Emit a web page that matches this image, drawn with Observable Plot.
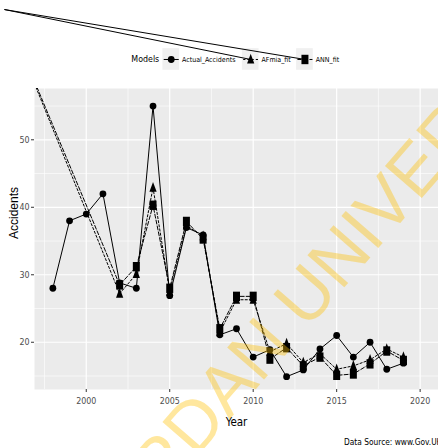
<!DOCTYPE html>
<html>
<head>
<meta charset="utf-8">
<script src="https://cdn.jsdelivr.net/npm/d3@7"></script>
<script src="https://cdn.jsdelivr.net/npm/@observablehq/plot@0.6"></script>
<style>
  html, body { margin: 0; padding: 0; background: white; overflow: hidden; }
  svg { display: block; }
</style>
</head>
<body>
<div id="chart"></div>
<script>
// ---- data ----
const actualYears = [1998,1999,2000,2001,2002,2003,2004,2005,2006,2007,2008,2009,2010,2011,2012,2013,2014,2015,2016,2017,2018,2019];
const actualValues = [28,38,39,42,28.8,28,55,26.9,37,35.9,21.1,22,17.8,18.9,14.9,15.9,19,21,17.8,20,16,16.9];

const fitYears = [2002,2003,2004,2005,2006,2007,2008,2009,2010,2011,2012,2013,2014,2015,2016,2017,2018,2019];
const afmiaValues = [27.2,30.1,42.9,27.5,37.3,35.7,21.5,26.3,26.3,18.6,19.8,17.0,18.3,16.0,16.5,17.4,19.0,17.8];
const annValues   = [28.5,31.2,40.3,28.0,37.9,35.3,22.0,26.8,26.8,17.5,19.2,16.5,17.8,15.1,15.3,16.8,18.7,17.3];

// stray starting point of the fitted paths (far outside the panel)
const fitStartYear = 1995.1;
const fitStartValue = 69.3;

const modelNames = ["Actual_Accidents", "AFmia_fit", "ANN_fit"];
const xTicks = [2000, 2005, 2010, 2015, 2020];
const xMinor = [1997.5, 2002.5, 2007.5, 2012.5, 2017.5];
const yTicks = [20, 30, 40, 50];
const yMinor = [15, 25, 35, 45, 55];

// ---- tables ----
const actualRows = actualYears.map((y, i) => ({year: y, value: actualValues[i]}));
const afmiaRows = fitYears.map((y, i) => ({year: y, value: afmiaValues[i]}));
const annRows = fitYears.map((y, i) => ({year: y, value: annValues[i]}));
const afmiaPath = [{year: fitStartYear, value: fitStartValue}, ...afmiaRows];
const annPath = [{year: fitStartYear, value: fitStartValue}, ...annRows];

// custom (slightly tall) symbols
const tallSquare = {draw(ctx, size) { const s = Math.sqrt(size / Math.PI); const w = 1.75 * s, h = 2.35 * s; ctx.rect(-w/2, -h/2, w, h); }};
const tallTriangle = {draw(ctx, size) { const s = Math.sqrt(size / Math.PI); ctx.moveTo(0, -1.45 * s); ctx.lineTo(0.9 * s, 1.0 * s); ctx.lineTo(-0.9 * s, 1.0 * s); ctx.closePath(); }};

const dashes = ["none", "2.2,2", "4,2"];
const symbols = ["circle", tallTriangle, tallSquare];

// legend placement (in data coordinates, above the panel)
const legendY = 61.9;
const legendKeyX = [2005.09, 2009.85, 2013.1];
const legendRows = modelNames.map((m, i) => ({name: m, x: legendKeyX[i], i}));

const font = "'Liberation Sans Narrow', 'Arial Narrow', 'DejaVu Sans Condensed', sans-serif";
const wmFont = "'Liberation Sans', Arial, sans-serif";

const chart = Plot.plot({
  width: 438,
  height: 448,
  marginLeft: 34,
  marginRight: 0,
  marginTop: 88,
  marginBottom: 59,
  style: {fontFamily: font, background: "white", overflow: "visible"},
  x: {domain: [1996.9, 2021.1]},
  y: {domain: [13, 57.6]},
  marks: [
    Plot.frame({fill: "#ebebeb", stroke: null}),
    Plot.gridX(xMinor, {stroke: "white", strokeOpacity: 1, strokeWidth: 0.6}),
    Plot.gridY(yMinor, {stroke: "white", strokeOpacity: 1, strokeWidth: 0.6}),
    Plot.gridX(xTicks, {stroke: "white", strokeOpacity: 1, strokeWidth: 1.2}),
    Plot.gridY(yTicks, {stroke: "white", strokeOpacity: 1, strokeWidth: 1.2}),
    Plot.axisX({ticks: xTicks, tickFormat: "d", tickSize: 3, tickPadding: 5, fontSize: 8.8, stroke: "#333", fill: "#4d4d4d", label: null}),
    Plot.axisY({ticks: yTicks, tickSize: 3, tickPadding: 2, fontSize: 8.8, stroke: "#333", fill: "#4d4d4d", label: null}),

    // series lines
    Plot.line(actualRows, {x: "year", y: "value", stroke: "black", strokeWidth: 1, clip: true}),
    Plot.line(afmiaPath, {x: "year", y: "value", stroke: "black", strokeWidth: 1, strokeDasharray: dashes[1], clip: true}),
    Plot.line(annPath, {x: "year", y: "value", stroke: "black", strokeWidth: 1, strokeDasharray: dashes[2], clip: true}),
    // series points
    Plot.dot(actualRows, {x: "year", y: "value", symbol: symbols[0], r: 3.4, fill: "black", clip: true}),
    Plot.dot(afmiaRows, {x: "year", y: "value", symbol: symbols[1], r: 4, fill: "black", clip: true}),
    Plot.dot(annRows, {x: "year", y: "value", symbol: symbols[2], r: 4, fill: "black", clip: true}),

    // legend
    Plot.text(["Models"], {x: 2004.37, y: legendY, textAnchor: "end", fontSize: 8.8, fill: "black"}),
    Plot.rect(legendRows, {x1: d => d.x - 0.5, x2: d => d.x + 0.5, y1: legendY - 1.6, y2: legendY + 1.6, fill: "#f0f0f0"}),
    Plot.link(legendRows.filter(d => d.i === 0), {x1: d => d.x - 0.45, x2: d => d.x + 0.45, y1: () => legendY, y2: () => legendY, stroke: "black", strokeWidth: 1}),
    Plot.link(legendRows.filter(d => d.i === 1), {x1: d => d.x - 0.45, x2: d => d.x + 0.45, y1: () => legendY, y2: () => legendY, stroke: "black", strokeWidth: 1, strokeDasharray: dashes[1]}),
    Plot.link(legendRows.filter(d => d.i === 2), {x1: d => d.x - 0.45, x2: d => d.x + 0.45, y1: () => legendY, y2: () => legendY, stroke: "black", strokeWidth: 1, strokeDasharray: dashes[2]}),
    // stray lines from the path start to the legend keys
    Plot.link(legendRows.slice(1), {x1: () => fitStartYear, y1: () => fitStartValue, x2: "x", y2: () => legendY, stroke: "black", strokeWidth: 1}),
    Plot.dot(legendRows.filter(d => d.i === 0), {x: "x", y: () => legendY, symbol: symbols[0], r: 3.4, fill: "black"}),
    Plot.dot(legendRows.filter(d => d.i === 1), {x: "x", y: () => legendY, symbol: symbols[1], r: 4, fill: "black"}),
    Plot.dot(legendRows.filter(d => d.i === 2), {x: "x", y: () => legendY, symbol: symbols[2], r: 4, fill: "black"}),
    Plot.text(legendRows, {x: d => d.x + 0.65, y: () => legendY, text: "name", textAnchor: "start", fontSize: 7, fill: "black"}),

    // titles and caption
    Plot.text(["Year"], {frameAnchor: "bottom", dy: 36, lineAnchor: "bottom", fontSize: 11.5, fill: "black"}),
    Plot.text(["Accidents"], {frameAnchor: "left", dx: -20, rotate: -90, fontSize: 12, fill: "black", fontFamily: wmFont}),
    Plot.text(["Data Source: www.Gov.UK"], {frameAnchor: "bottom-right", dx: 3, dy: 55, lineAnchor: "bottom", textAnchor: "end", fontSize: 8.3, fill: "black"}),

    // watermark on top
    Plot.text(["JOR"], {frameAnchor: "top-left", dx: 161, dy: 370, rotate: -49, lineAnchor: "bottom", textAnchor: "end", fontSize: 71, fill: "#ffbf00", fillOpacity: 0.38, fontFamily: wmFont}),
    Plot.text(["DAN UNIVERSITY"], {frameAnchor: "top-left", dx: 161, dy: 370, rotate: -49, lineAnchor: "bottom", textAnchor: "start", fontSize: 71, fill: "#ffbf00", fillOpacity: 0.38, fontFamily: wmFont})
  ]
});
document.getElementById("chart").appendChild(chart);
</script>
</body>
</html>
